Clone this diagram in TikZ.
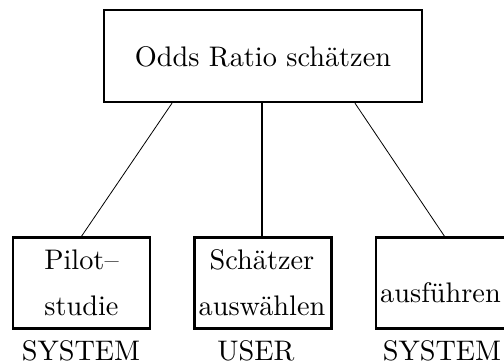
\documentclass[tikz,border=0pt]{standalone}
\usetikzlibrary{calc}
\newcommand{\bigtxt}[1]{\scalebox{2.83}{#1}}
\begin{document}
\begin{tikzpicture}[x=1pt,y=-1pt,
  boxst/.style={draw,line width=2.4pt,minimum width=137pt,minimum height=91pt,inner sep=0pt},
  topst/.style={draw,line width=2.4pt,minimum width=318pt,minimum height=92pt,inner sep=0pt},
  txt/.style={anchor=base,inner sep=0pt,font=\fontsize{10}{12}\selectfont},
  diag/.style={line width=0.8pt},
  vert/.style={line width=2.2pt}]
\useasboundingbox (0,0) rectangle (504,364);
\clip (0,0) rectangle (504,364);
\node[topst] (top) at (263,56) {};
\node[boxst] (b1) at (81.5,283) {};
\node[boxst] (b2) at (263,283) {};
\node[boxst] (b3) at (444.5,283) {};
\node[txt] (t0) at (263,66.7) {\bigtxt{Odds Ratio schätzen}};
\node[txt] (t1a) at (81.5,269) {\bigtxt{Pilot--}};
\node[txt] (t1b) at (81.5,315) {\bigtxt{studie}};
\node[txt] (t2a) at (262,269) {\bigtxt{Schätzer}};
\node[txt] (t2b) at (262,315) {\bigtxt{auswählen}};
\node[txt] (t3) at (440.5,302) {\bigtxt{ausführen}};
\node[txt] (l1) at (81,360) {\bigtxt{SYSTEM}};
\node[txt] (l2) at (256,360) {\bigtxt{USER}};
\node[txt] (l3) at (442,360) {\bigtxt{SYSTEM}};
\draw[diag] ([xshift=-91pt]top.south) -- (b1.north);
\draw[vert] ([xshift=-1pt]top.south) -- ([xshift=-1pt]b2.north);
\draw[diag] ([xshift=92pt]top.south) -- (b3.north);
\end{tikzpicture}
\end{document}
